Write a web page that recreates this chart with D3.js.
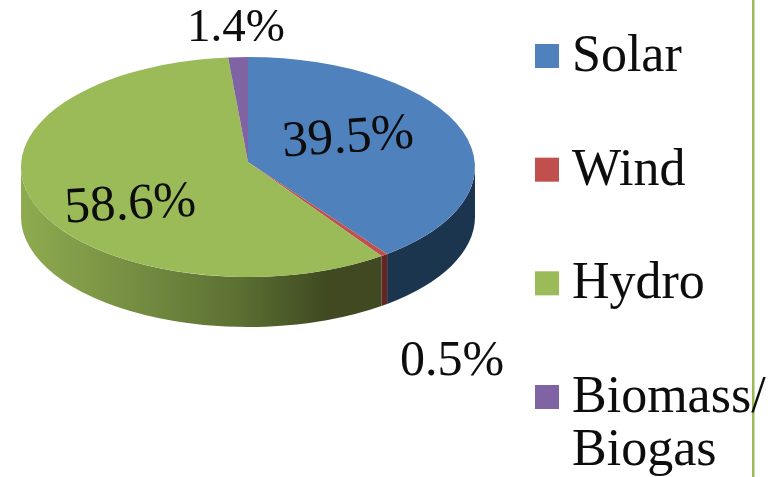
<!DOCTYPE html>
<html>
<head>
<meta charset="utf-8">
<script src="https://cdn.jsdelivr.net/npm/d3@7"></script>
<style>
  html, body { margin: 0; padding: 0; background: #fff; }
  svg { display: block; }
  text { font-family: "Liberation Serif", serif; fill: #0a0a0a; }
</style>
</head>
<body>
<svg width="774" height="477"></svg>
<script>
// Data
const categories = ["Solar", "Wind", "Hydro", "Biomass/Biogas"];
const shares = [39.5, 0.5, 58.6, 1.4];
const shareLabels = ["39.5%", "0.5%", "58.6%", "1.4%"];
const topColors = ["#4f81bd", "#c0504d", "#9bbb59", "#8064a2"];
const sideColors = ["#1f344f", "#632523", "url(#hydroSide)", "#4d3c63"];

const svg = d3.select("svg");
const width = +svg.attr("width");
const height = +svg.attr("height");

// Pie geometry
const cx = 248, cy = 167, rx = 227, ry = 110, depth = 50;
const apex = [248, 162];

const px = a => cx + rx * Math.sin(a);
const py = a => cy - ry * Math.cos(a);

const pie = d3.pie().sort(null).value(d => d)(shares);

// Hydro wall goes from light on the left to dark on the right
const grad = svg.append("defs").append("linearGradient")
  .attr("id", "hydroSide");
[[0, "#8fab50"], [0.3, "#768f42"], [0.6, "#5c7033"], [0.85, "#3f4a21"], [1, "#3f4a21"]]
  .forEach(([o, c]) => grad.append("stop").attr("offset", o).attr("stop-color", c));

svg.select("defs").append("filter").attr("id", "soft")
  .append("feGaussianBlur").attr("stdDeviation", 0.5);

const chart = svg.append("g").attr("filter", "url(#soft)");

// Side walls, only the front half of the ellipse shows
chart.selectAll("path.side")
  .data(pie)
  .enter()
  .append("path")
  .attr("class", "side")
  .attr("fill", (d, i) => sideColors[i])
  .attr("d", d => {
    const a0 = Math.max(d.startAngle, Math.PI / 2);
    const a1 = Math.min(d.endAngle, Math.PI * 1.5);
    if (a1 <= a0) return null;
    return `M${px(a0)},${py(a0)}A${rx},${ry} 0 0 1 ${px(a1)},${py(a1)}` +
      `L${px(a1)},${py(a1) + depth}A${rx},${ry} 0 0 0 ${px(a0)},${py(a0) + depth}Z`;
  });

// Top face
chart.selectAll("path.top")
  .data(pie)
  .enter()
  .append("path")
  .attr("class", "top")
  .attr("fill", (d, i) => topColors[i])
  .attr("d", d => {
    const large = d.endAngle - d.startAngle > Math.PI ? 1 : 0;
    return `M${apex[0]},${apex[1]}L${px(d.startAngle)},${py(d.startAngle)}` +
      `A${rx},${ry} 0 ${large} 1 ${px(d.endAngle)},${py(d.endAngle)}Z`;
  });

// Data labels
const labelSpots = [
  { x: 349, y: 152, size: 51, rotate: -4 },
  { x: 452, y: 375, size: 50, rotate: 0 },
  { x: 131, y: 219, size: 51, rotate: -3 },
  { x: 236, y: 41, size: 47, rotate: 0 }
];

chart.selectAll("text.value")
  .data(shareLabels)
  .enter()
  .append("text")
  .attr("class", "value")
  .attr("text-anchor", "middle")
  .attr("transform", (d, i) => `translate(${labelSpots[i].x},${labelSpots[i].y}) rotate(${labelSpots[i].rotate})`)
  .style("font-size", (d, i) => labelSpots[i].size + "px")
  .text(d => d);

// Green rule on the right
chart.append("rect")
  .attr("x", 752)
  .attr("y", -5)
  .attr("width", 2.5)
  .attr("height", height + 10)
  .attr("fill", "#9bbb59");

// Legend
const legendY = d3.scalePoint()
  .domain(categories)
  .range([56, 397]);

const legend = chart.selectAll("g.legend")
  .data(categories)
  .enter()
  .append("g")
  .attr("class", "legend")
  .attr("transform", d => `translate(535,${legendY(d)})`);

legend.append("rect")
  .attr("y", -12)
  .attr("width", 24)
  .attr("height", 24)
  .attr("fill", (d, i) => topColors[i]);

const legendText = legend.append("text")
  .attr("x", 37)
  .attr("y", 15)
  .style("font-size", "52px");

legendText.each(function (d) {
  const parts = d.split("/");
  const t = d3.select(this);
  if (parts.length === 1) { t.text(d); return; }
  t.append("tspan").attr("x", 37).text(parts[0] + "/");
  t.append("tspan").attr("x", 37).attr("dy", 53).text(parts[1]);
});
</script>
</body>
</html>
